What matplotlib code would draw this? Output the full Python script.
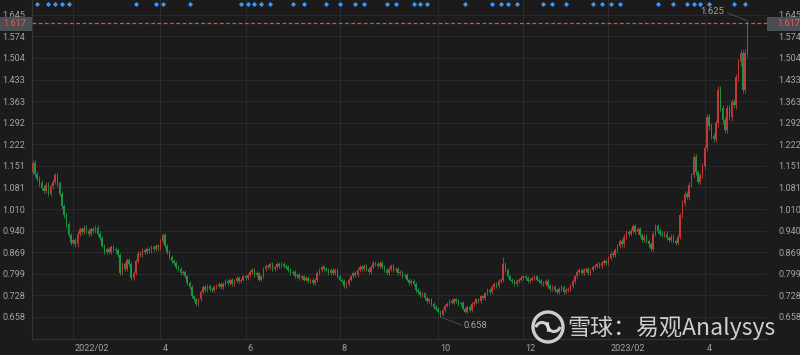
import numpy as np
import matplotlib.pyplot as plt
from matplotlib.patches import Rectangle, Circle, Arc
from matplotlib.transforms import blended_transform_factory, ScaledTranslation

plt.rcParams['font.family'] = ['Roboto', 'DejaVu Sans']

# daily closes, one list per month (trading days)
jan22 = [1.160, 1.125, 1.110, 1.095, 1.080, 1.070, 1.090, 1.060, 1.085, 1.100, 1.120, 1.095,
         1.060, 1.020, 0.990, 0.960, 0.925, 0.900]
feb22 = [0.910, 0.895, 0.930, 0.945, 0.935, 0.950, 0.940, 0.930, 0.945, 0.940, 0.950, 0.930,
         0.915, 0.890, 0.870, 0.880]
mar22 = [0.870, 0.885, 0.880, 0.875, 0.860, 0.800, 0.830, 0.815, 0.845, 0.830, 0.785, 0.800,
         0.840, 0.865, 0.860, 0.875, 0.870, 0.880, 0.875, 0.885, 0.880, 0.890, 0.885]
apr22 = [0.905, 0.925, 0.890, 0.870, 0.855, 0.840, 0.835, 0.820, 0.815, 0.800, 0.805, 0.790,
         0.770, 0.755, 0.725, 0.715, 0.700, 0.715, 0.740]
may22 = [0.755, 0.745, 0.760, 0.750, 0.745, 0.755, 0.760, 0.765, 0.755, 0.765, 0.775, 0.770,
         0.780, 0.765, 0.775, 0.785, 0.775, 0.780, 0.790]
jun22 = [0.785, 0.795, 0.805, 0.810, 0.795, 0.800, 0.780, 0.790, 0.815, 0.825, 0.820, 0.830,
         0.815, 0.820, 0.830, 0.825, 0.830, 0.825, 0.820, 0.810, 0.800]
jul22 = [0.805, 0.790, 0.795, 0.785, 0.790, 0.780, 0.785, 0.775, 0.780, 0.770, 0.780, 0.800,
         0.810, 0.820, 0.815, 0.810, 0.800, 0.810, 0.800, 0.810, 0.790]
aug22 = [0.780, 0.775, 0.760, 0.765, 0.780, 0.790, 0.800, 0.795, 0.810, 0.820, 0.815, 0.825,
         0.815, 0.805, 0.820, 0.835, 0.830, 0.825, 0.835, 0.820, 0.810, 0.800, 0.815]
sep22 = [0.825, 0.810, 0.815, 0.800, 0.805, 0.790, 0.795, 0.780, 0.770, 0.775, 0.765, 0.745,
         0.740, 0.730, 0.735, 0.720, 0.710, 0.715, 0.700, 0.690, 0.685]
oct22 = [0.675, 0.665, 0.680, 0.695, 0.700, 0.710, 0.705, 0.715, 0.710, 0.700, 0.705, 0.685,
         0.675, 0.690, 0.680, 0.700]
nov22 = [0.705, 0.715, 0.710, 0.725, 0.720, 0.735, 0.745, 0.740, 0.755, 0.765, 0.760, 0.775,
         0.780, 0.830, 0.810, 0.790, 0.780, 0.775, 0.765, 0.775, 0.780, 0.785]
dec22 = [0.790, 0.785, 0.775, 0.780, 0.785, 0.790, 0.780, 0.775, 0.770, 0.765, 0.775, 0.760,
         0.750, 0.755, 0.745, 0.740, 0.750, 0.755, 0.740, 0.745, 0.750, 0.760]
jan23 = [0.775, 0.790, 0.805, 0.810, 0.800, 0.810, 0.815, 0.800, 0.810, 0.820, 0.825, 0.830,
         0.825, 0.835, 0.840, 0.835]
feb23 = [0.850, 0.865, 0.860, 0.875, 0.890, 0.905, 0.895, 0.920, 0.935, 0.930, 0.940, 0.955,
         0.935, 0.945, 0.925, 0.910, 0.920, 0.905, 0.895, 0.880]
mar23 = [0.930, 0.955, 0.940, 0.930, 0.925, 0.930, 0.915, 0.910, 0.920, 0.905, 0.900, 0.920,
         0.990, 1.030, 1.060, 1.050, 1.090, 1.120, 1.180, 1.130, 1.100, 1.120, 1.150]
apr23 = [1.210, 1.310, 1.280, 1.250, 1.240, 1.290, 1.400, 1.340, 1.300, 1.270, 1.340, 1.310,
         1.360, 1.350, 1.440, 1.490, 1.520, 1.400, 1.520, 1.617]
first_open = 1.13

# extremes marked on the chart
high_marks = {319: 1.625, 210: 0.855}
low_marks = {182: 0.658}
peak_idx, peak_val = 319, 1.625
trough_idx, trough_val = 182, 0.658
last_price = 1.617

month_idx = [18, 57, 95, 137, 181, 219, 257, 300]
month_labels = ['2022/02', '4', '6', '8', '10', '12', '2023/02', '4']
y_ticks = [0.658, 0.728, 0.799, 0.869, 0.940, 1.010, 1.081, 1.151, 1.222, 1.292,
           1.363, 1.433, 1.504, 1.574, 1.645]
signal_idx = [2, 7, 10, 13, 16, 46, 55, 58, 70, 93, 96, 99, 102, 106, 116, 121, 131, 137,
              144, 148, 158, 162, 170, 173, 176, 193, 205, 209, 212, 216, 228, 232, 238,
              250, 254, 258, 262, 279, 286, 292, 295, 298, 302, 313, 318]

closes = np.array(jan22 + feb22 + mar22 + apr22 + may22 + jun22 + jul22 + aug22 + sep22
                  + oct22 + nov22 + dec22 + jan23 + feb23 + mar23 + apr23)
opens = np.concatenate([[first_open], closes[:-1]])
idx = np.arange(len(closes))
pad = closes * 0.008
highs = np.maximum(opens, closes) + pad
lows = np.minimum(opens, closes) - pad
for k, v in high_marks.items():
    highs[k] = v
for k, v in low_marks.items():
    lows[k] = v

BG = '#1b1b1b'
RED = '#c03a3c'
GREEN = '#1a9443'
GRID = '#2b2b2b'
TXT = '#a3a3a3'

fig = plt.figure(figsize=(8, 3.55), dpi=100, facecolor=BG)
ax = fig.add_axes([32 / 800, 1 - 338.5 / 355, 735 / 800, 338.5 / 355], facecolor=BG)

col = np.where(closes >= opens, RED, GREEN)
ax.vlines(idx, lows, highs, colors=col, lw=0.6, zorder=3)
body = np.maximum(np.abs(closes - opens), 0.002)
ax.bar(idx, body, bottom=np.minimum(opens, closes), width=0.7, color=col, linewidth=0, zorder=3)

ax.set_xlim(-0.3125, 327.8)
ax.set_ylim(0.5875, 1.693)
ax.set_yticks(y_ticks)
ax.set_yticklabels([f'{v:.3f}' for v in y_ticks])
ax.set_xticks(month_idx)
ax.set_xticklabels(month_labels)
ax.grid(color=GRID, lw=0.7)
ax.tick_params(length=0, colors=TXT, labelsize=6.6)
ax.tick_params(axis='y', pad=5)
ax.tick_params(axis='x', pad=4)
for lab in ax.get_xticklabels():
    lab.set_ha('left')
    lab.set_transform(lab.get_transform() + ScaledTranslation(2 / 100, 0, fig.dpi_scale_trans))
for s in ['top', 'right']:
    ax.spines[s].set_visible(False)
for s in ['left', 'bottom']:
    ax.spines[s].set_color('#343434')
    ax.spines[s].set_linewidth(0.8)

ax2 = ax.twinx()
ax2.set_ylim(ax.get_ylim())
ax2.set_yticks(y_ticks)
ax2.set_yticklabels([f'{v:.3f}' for v in y_ticks])
ax2.tick_params(length=0, colors=TXT, labelsize=6.6, pad=8)
for s in ax2.spines.values():
    s.set_visible(False)

ax.axhline(last_price, color='#d65a24', lw=0.9, ls=(0, (3, 2)), zorder=4)

trans = blended_transform_factory(ax.transData, ax.transAxes)
ax.plot(signal_idx, np.full(len(signal_idx), 1 - 4 / 338.5), 'D', ms=2.6, color='#3f95f2',
        mec='none', transform=trans, clip_on=False, zorder=5)

ax.annotate(f'{peak_val:.3f}', xy=(peak_idx, peak_val), xytext=(-25, 6.5),
            textcoords='offset points', ha='center', va='center', color=TXT, fontsize=6.8,
            arrowprops=dict(arrowstyle='-', color='#5a5a5a', lw=0.5, shrinkA=0, shrinkB=0,
                            relpos=(1, 0.5)))
ax.annotate(f'{trough_val:.3f}', xy=(trough_idx, trough_val), xytext=(25.5, -6.5),
            textcoords='offset points', ha='center', va='center', color=TXT, fontsize=6.8,
            arrowprops=dict(arrowstyle='-', color='#5a5a5a', lw=0.5, shrinkA=0, shrinkB=0,
                            relpos=(0, 0.5)))

# overlay in pixel coords for price boxes and watermark
ov = fig.add_axes([0, 0, 1, 1], facecolor='none', zorder=10)
ov.set_xlim(0, 800)
ov.set_ylim(355, 0)
ov.axis('off')
for x0, w, tx in [(0, 31.7, 3), (767, 33, 777)]:
    ov.add_patch(Rectangle((x0, 16.7), w, 14.3, color='#4b4e53', lw=0))
    ov.text(tx, 24, f'{last_price:.3f}', color='#f05656', fontsize=6.6, ha='left', va='center')

wm = '#e2e2e2'
ov.add_patch(Circle((548, 327), 15, fill=False, ec=wm, lw=2.4, alpha=0.9))
ov.add_patch(Arc((542, 329.5), 13, 14, theta1=200, theta2=20, ec=wm, lw=2.2, alpha=0.9))
ov.add_patch(Arc((554, 324.5), 13, 14, theta1=20, theta2=200, ec=wm, lw=2.2, alpha=0.9))
ov.text(567, 328, '雪球：易观Analysys', color=wm, alpha=0.9, fontsize=16.6, ha='left', va='center',
        family=['Noto Sans CJK SC', 'DejaVu Sans'])

fig.savefig('out.png', dpi=100, facecolor=BG)
